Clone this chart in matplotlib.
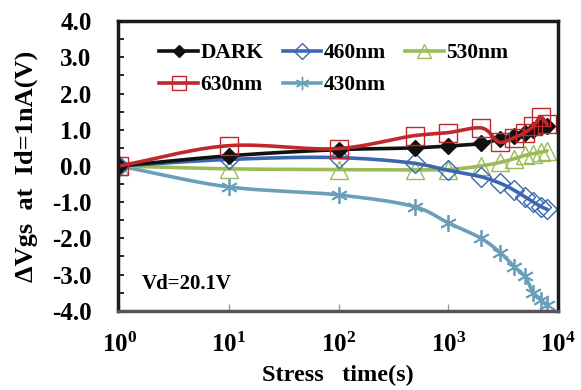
import numpy as np
import matplotlib.pyplot as plt
from matplotlib.lines import Line2D

plt.rcParams['font.family'] = ['Liberation Serif', 'DejaVu Serif']
plt.rcParams['font.weight'] = 'bold'
plt.rcParams['mathtext.fontset'] = 'custom'
plt.rcParams['mathtext.rm'] = 'Liberation Serif:bold'
plt.rcParams['mathtext.bf'] = 'Liberation Serif:bold'
plt.rcParams['mathtext.it'] = 'Liberation Serif:bold'

# stress time (s)
t = [1, 10, 100, 500, 1000, 2000, 3000, 4000, 5000, 6000, 7000, 8000]

dark = [0.0, 0.28, 0.45, 0.50, 0.55, 0.62, 0.75, 0.84, 0.92, 1.00, 1.08, 1.10]
nm460 = [0.0, 0.18, 0.23, 0.07, -0.12, -0.30, -0.48, -0.67, -0.85, -1.00, -1.12, -1.20]
nm530 = [0.0, -0.08, -0.10, -0.11, -0.10, 0.00, 0.10, 0.20, 0.29, 0.34, 0.38, 0.42]
nm630 = [0.0, 0.56, 0.48, 0.84, 0.92, 1.05, 0.65, 0.78, 0.92, 1.10, 1.35, 1.15]
nm430 = [0.0, -0.58, -0.80, -1.13, -1.57, -2.00, -2.40, -2.78, -3.05, -3.50, -3.70, -3.85]

tick_labels_x = ['$10^{0}$', '$10^{1}$', '$10^{2}$', '$10^{3}$', '$10^{4}$']


def smooth(x, y, n=30):
    # centripetal catmull-rom through points, in log-x space
    px = np.log10(np.asarray(x, float))
    py = np.asarray(y, float)
    P = np.column_stack([px, py])
    P = np.vstack([2 * P[0] - P[1], P, 2 * P[-1] - P[-2]])
    out = []
    for i in range(1, len(P) - 2):
        p0, p1, p2, p3 = P[i - 1], P[i], P[i + 1], P[i + 2]
        t0 = 0.0
        t1 = t0 + np.linalg.norm(p1 - p0) ** 0.5
        t2 = t1 + np.linalg.norm(p2 - p1) ** 0.5
        t3 = t2 + np.linalg.norm(p3 - p2) ** 0.5
        tt = np.linspace(t1, t2, n)[:, None]
        a1 = (t1 - tt) / (t1 - t0) * p0 + (tt - t0) / (t1 - t0) * p1
        a2 = (t2 - tt) / (t2 - t1) * p1 + (tt - t1) / (t2 - t1) * p2
        a3 = (t3 - tt) / (t3 - t2) * p2 + (tt - t2) / (t3 - t2) * p3
        b1 = (t2 - tt) / (t2 - t0) * a1 + (tt - t0) / (t2 - t0) * a2
        b2 = (t3 - tt) / (t3 - t1) * a2 + (tt - t1) / (t3 - t1) * a3
        c = (t2 - tt) / (t2 - t1) * b1 + (tt - t1) / (t2 - t1) * b2
        out.append(c)
    c = np.vstack(out)
    return 10 ** c[:, 0], c[:, 1]


star = (6, 2, 0)
series = [
    ('430nm', nm430, '#6A9FBA', star, 12, 'none'),
    ('530nm', nm530, '#9BBB59', '^', 13, 'none'),
    ('460nm', nm460, '#3A67B0', 'D', 10, 'none'),
    ('DARK', dark, '#111111', 'D', 8, '#111111'),
    ('630nm', nm630, '#C0282D', 's', 13, 'none'),
]

fig = plt.figure(figsize=(5.81, 3.9), dpi=100)
ax = fig.add_axes([0.203, 0.203, 0.757, 0.743])

handles = {}
for name, vals, col, mk, ms, fc in series:
    sx, sy = smooth(t, vals)
    ax.plot(sx, sy, color=col, lw=2.6, solid_capstyle='round')
    ax.plot(t, vals, ls='none', marker=mk, ms=ms, mfc=fc, mec=col,
            mew=1.3 if mk == star else 1.0)
    handles[name] = Line2D([], [], color=col, lw=2.6, marker=mk, ms=ms * 0.8,
                           mfc=fc, mec=col, mew=1.0)

order = ['DARK', '630nm', '460nm', '430nm', '530nm']
ax.legend([handles[k] for k in order], order, ncol=3, frameon=False,
          loc='upper left', bbox_to_anchor=(0.06, 0.975), fontsize=15.5,
          handlelength=1.8, handletextpad=0.1, columnspacing=0.9,
          labelspacing=0.55, borderaxespad=0.3)

ax.set_xscale('log')
ax.set_xlim(0.97, 1e4)
ax.set_ylim(-4, 4)
ax.set_xticks([1, 10, 100, 1000, 10000])
ax.set_xticklabels(tick_labels_x)
ax.minorticks_off()
ax.set_yticks(np.arange(-4, 4.01, 1.0))
ax.set_yticklabels(['%.1f' % v for v in np.arange(-4, 4.01, 1.0)])
ax.set_yticks(np.arange(-3.5, 4, 1.0), minor=True)
ax.tick_params(axis='y', which='both', direction='in', length=4, width=1.2,
               labelsize=18, pad=19)
ax.tick_params(axis='x', which='major', direction='in', length=5, width=1.0,
               color='#999999', labelsize=18, pad=16)

for s in ax.spines.values():
    s.set_linewidth(2.5)
    s.set_color('#1a1a1a')
ax.spines['bottom'].set_color('#555555')

ax.set_ylabel('ΔVgs  at  Id=1nA(V)', fontsize=19, fontweight='bold')
ax.set_xlabel('Stress   time(s)', fontsize=17.5, fontweight='bold')
ax.yaxis.set_label_coords(-0.182, 0.5)
ax.xaxis.set_label_coords(0.5, -0.185)
ax.text(0.055, 0.075, 'Vd=20.1V', transform=ax.transAxes, fontsize=15,
        fontweight='bold')

fig.savefig('out.png', dpi=100)
